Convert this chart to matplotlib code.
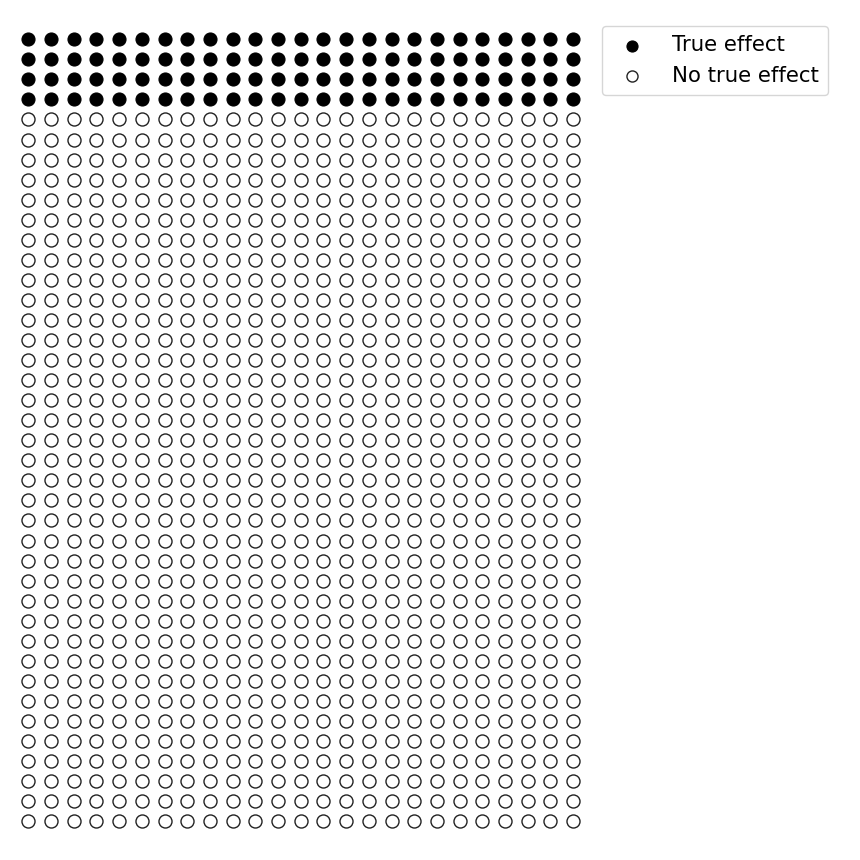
import numpy as np
import matplotlib
matplotlib.use("Agg")
import matplotlib.pyplot as plt

# 1000 studies laid out on a 25 x 40 grid, the first 100 carry a true effect
n_cols = 25
n_rows = 40
n_true = 100
labels = ["True effect", "No true effect"]

idx = np.arange(n_cols * n_rows)
cols = idx % n_cols
rows = idx // n_cols
is_true = idx < n_true

fig = plt.figure(figsize=(8.6, 8.6), dpi=100)
ax = fig.add_axes([0.0197, 0.0334, 0.66, 0.9326])

ax.scatter(cols[is_true], rows[is_true], s=88, c="black", edgecolors="black",
	linewidths=0.8, label=labels[0])
ax.scatter(cols[~is_true], rows[~is_true], s=88, facecolors="white", edgecolors="#222222",
	linewidths=1.0, label=labels[1])

ax.set_xlim(-0.5, n_cols - 0.5)
ax.set_ylim(n_rows - 0.5, -0.5)
ax.axis("off")

fig.legend(loc="upper left", bbox_to_anchor=(591 / 860, 1 - 15 / 860), fontsize=15.3,
	markerscale=0.85, handletextpad=0.85, borderpad=0.45)

plt.savefig("out.png", dpi=100)
plt.close()
